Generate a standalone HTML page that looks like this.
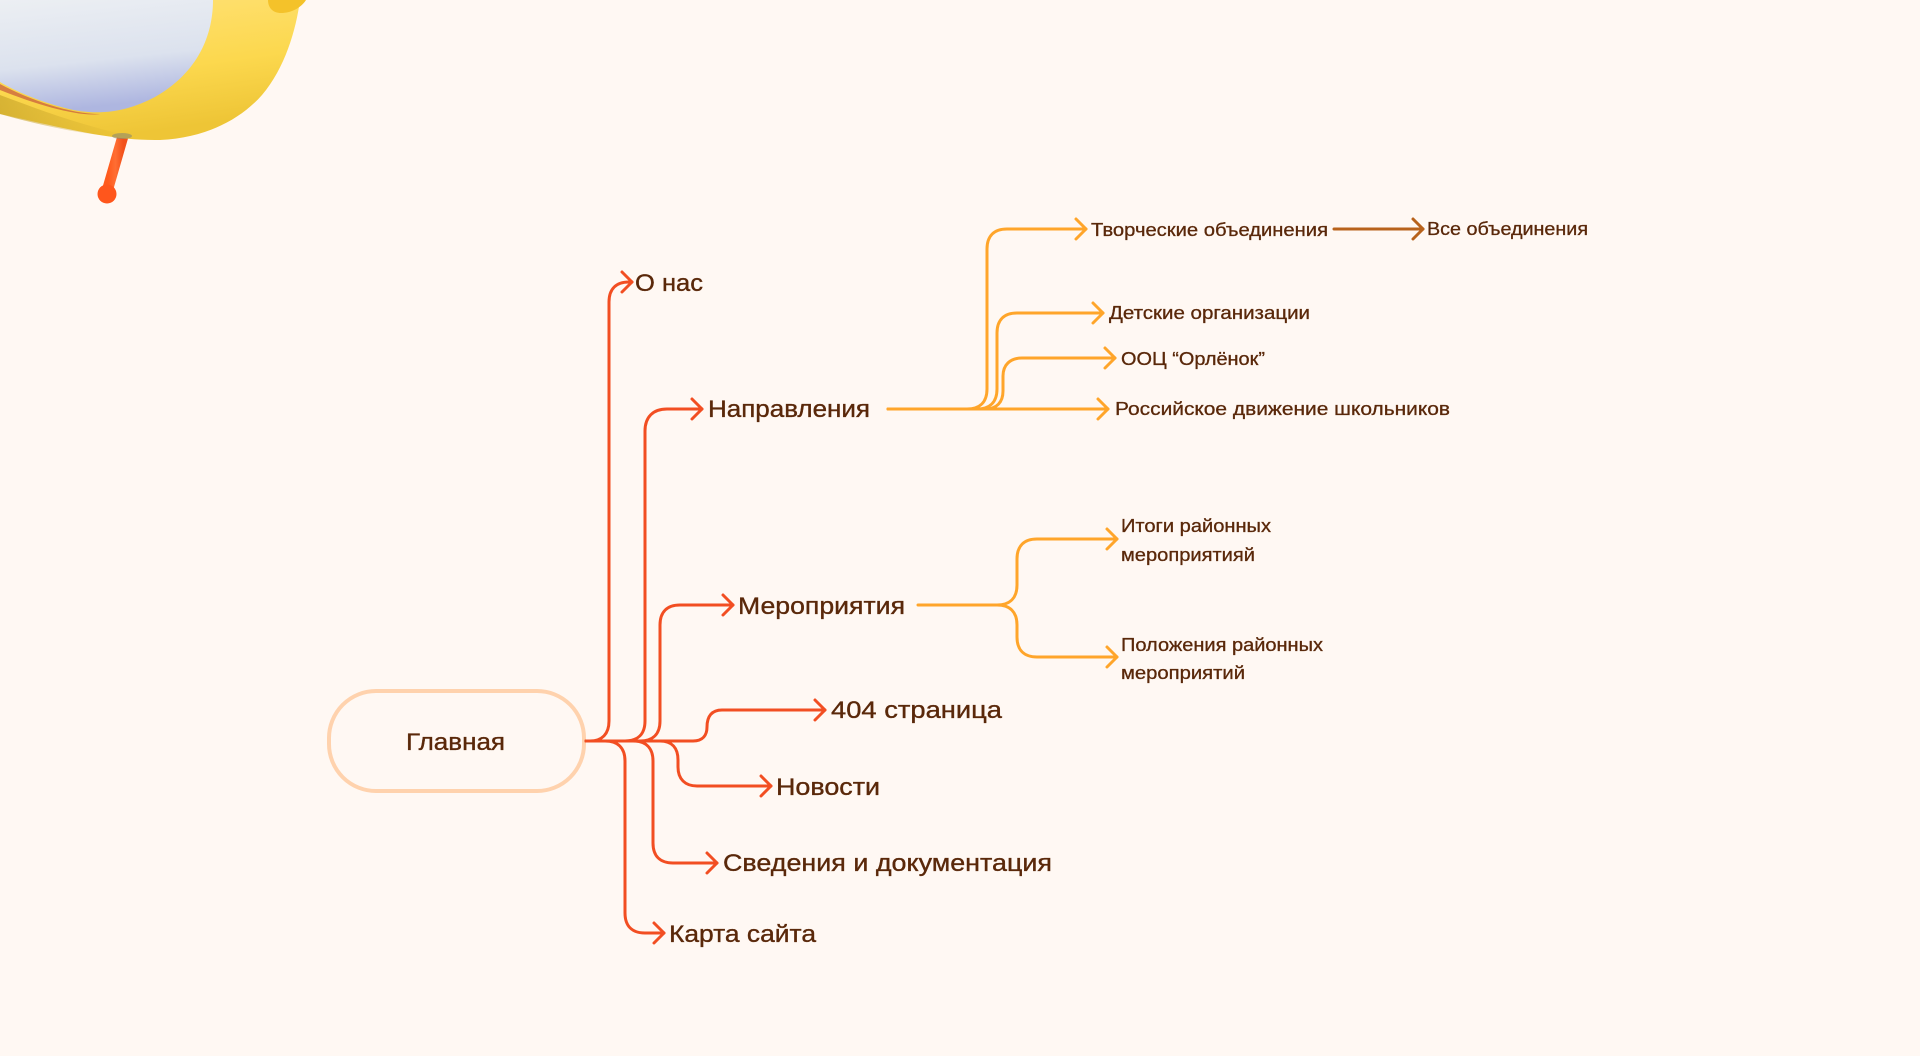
<!DOCTYPE html>
<html>
<head>
<meta charset="utf-8">
<style>
  html, body { margin:0; padding:0; background:#FFF8F3; }
  body { width:1920px; height:1056px; overflow:hidden; }
  svg { display:block; }
  .t1 { font-family:"Liberation Sans", "Noto Sans CJK SC", sans-serif; font-size:24px; fill:#5A280A; stroke:#5A280A; stroke-width:0.35px; }
  .t2 { font-family:"Liberation Sans", "Noto Sans CJK SC", sans-serif; font-size:18.5px; fill:#5A280A; stroke:#5A280A; stroke-width:0.3px; }
  .r { fill:none; stroke:#F24E22; stroke-width:3; stroke-linecap:round; stroke-linejoin:round; }
  .o { fill:none; stroke:#FFA52A; stroke-width:3; stroke-linecap:round; stroke-linejoin:round; }
  .b { fill:none; stroke:#B8621B; stroke-width:3; stroke-linecap:round; stroke-linejoin:round; }
</style>
</head>
<body>
<svg width="1920" height="1056" viewBox="0 0 1920 1056" xmlns="http://www.w3.org/2000/svg">
  <defs>
    <linearGradient id="yel" x1="0" y1="0" x2="0.3" y2="1">
      <stop offset="0" stop-color="#FFE27A"/>
      <stop offset="0.6" stop-color="#FCD84E"/>
      <stop offset="1" stop-color="#EEC536"/>
    </linearGradient>
    <linearGradient id="shade" x1="0" y1="0" x2="1" y2="0">
      <stop offset="0" stop-color="#C9A52A" stop-opacity="0.7"/>
      <stop offset="1" stop-color="#C9A52A" stop-opacity="0"/>
    </linearGradient>
    <linearGradient id="belly" x1="0" y1="0" x2="0.2" y2="1">
      <stop offset="0" stop-color="#ECEFF3"/>
      <stop offset="0.6" stop-color="#DCE2EE"/>
      <stop offset="1" stop-color="#AEB6E0"/>
    </linearGradient>
    <linearGradient id="leg" x1="0" y1="0" x2="1" y2="0">
      <stop offset="0" stop-color="#FF5A1C"/>
      <stop offset="0.5" stop-color="#FF6E33"/>
      <stop offset="1" stop-color="#F2511A"/>
    </linearGradient>
  </defs>

  <!-- Bird (top-left) -->
  <line x1="123" y1="136" x2="108" y2="188" stroke="url(#leg)" stroke-width="11" stroke-linecap="round"/>
  <circle cx="107" cy="194" r="9.5" fill="#FF561C"/>
  <path d="M0,0 H300 C296,30 285,68 262,95 C240,120 205,138 160,140 C110,141 60,127 0,114 Z" fill="url(#yel)"/>
  <path d="M0,95 C40,110 80,125 130,136 C100,138 50,128 0,114 Z" fill="url(#shade)"/>
  <ellipse cx="122" cy="136" rx="10" ry="3" fill="#8E8A70" opacity="0.6"/>
  <path d="M0,84 C30,100 70,114 100,114 C80,117 40,106 0,90 Z" fill="#C8593C" opacity="0.7"/>
  <path d="M0,0 H213 C213,40 194,75 155,97 C125,113 95,116 65,108 C38,101 15,91 0,82 Z" fill="url(#belly)"/>
  <path d="M268,0 H306 C301,8 291,13 281,13 C273,13 268,8 268,0 Z" fill="#F4C22A"/>

  <!-- Root node -->
  <rect x="329" y="691" width="255" height="100" rx="47" ry="47" fill="#FFF8F3" stroke="#FFD2AD" stroke-width="4"/>
  <text class="t1" x="406" y="750" font-size="25" textLength="99" lengthAdjust="spacingAndGlyphs">Главная</text>

  <!-- Red connectors -->
  <path class="r" d="M586,741 H590 C602,741 609,734 609,721 V302 C609,289 616,282 629,282 H632"/>
  <path class="r" d="M622,272 L632,282 L622,292"/>
  <path class="r" d="M586,741 H625 C638,741 645,734 645,721 V431 C645,417 653,409 667,409 H702"/>
  <path class="r" d="M692,399 L702,409 L692,419"/>
  <path class="r" d="M586,741 H640 C653,741 660,734 660,721 V625 C660,612 667,605 680,605 H733"/>
  <path class="r" d="M723,595 L733,605 L723,615"/>
  <path class="r" d="M586,741 H693 C703,741 707,735 707,727 C707,716 712,710 722,710 H825"/>
  <path class="r" d="M815,700 L825,710 L815,720"/>
  <path class="r" d="M586,741 H660 C672,741 678,748 678,760 V767 C678,779 685,786 697,786 H771"/>
  <path class="r" d="M761,776 L771,786 L761,796"/>
  <path class="r" d="M586,741 H633 C646,741 653,748 653,761 V843 C653,856 660,863 673,863 H717"/>
  <path class="r" d="M707,853 L717,863 L707,873"/>
  <path class="r" d="M586,741 H605 C618,741 625,748 625,761 V913 C625,926 632,933 645,933 H664"/>
  <path class="r" d="M654,923 L664,933 L654,943"/>

  <!-- Top level labels -->
  <text class="t1" x="635" y="291" textLength="68" lengthAdjust="spacingAndGlyphs">О нас</text>
  <text class="t1" x="708" y="417" textLength="162" lengthAdjust="spacingAndGlyphs">Направления</text>
  <text class="t1" x="738" y="614" textLength="167" lengthAdjust="spacingAndGlyphs">Мероприятия</text>
  <text class="t1" x="831" y="718" textLength="171" lengthAdjust="spacingAndGlyphs">404 страница</text>
  <text class="t1" x="776" y="795" textLength="104" lengthAdjust="spacingAndGlyphs">Новости</text>
  <text class="t1" x="723" y="871" textLength="329" lengthAdjust="spacingAndGlyphs">Сведения и документация</text>
  <text class="t1" x="669" y="942" textLength="147" lengthAdjust="spacingAndGlyphs">Карта сайта</text>

  <!-- Orange connectors: Направления -->
  <path class="o" d="M888,409 H1108"/>
  <path class="o" d="M1098,399 L1108,409 L1098,419"/>
  <path class="o" d="M888,409 H967 C980,409 987,402 987,389 V249 C987,236 994,229 1007,229 H1086"/>
  <path class="o" d="M1076,219 L1086,229 L1076,239"/>
  <path class="o" d="M888,409 H977 C990,409 997,402 997,389 V333 C997,320 1004,313 1017,313 H1103"/>
  <path class="o" d="M1093,303 L1103,313 L1093,323"/>
  <path class="o" d="M888,409 H985 C997,409 1003,402 1003,391 V376 C1003,365 1010,358 1022,358 H1115"/>
  <path class="o" d="M1105,348 L1115,358 L1105,368"/>

  <!-- Brown arrow -->
  <path class="b" d="M1334,229 H1423"/>
  <path class="b" d="M1413,219 L1423,229 L1413,239"/>

  <!-- Orange connectors: Мероприятия -->
  <path class="o" d="M918,605 H997 C1010,605 1017,598 1017,585 V559 C1017,546 1024,539 1037,539 H1117"/>
  <path class="o" d="M1107,529 L1117,539 L1107,549"/>
  <path class="o" d="M997,605 C1010,605 1017,612 1017,625 V637 C1017,650 1024,657 1037,657 H1117"/>
  <path class="o" d="M1107,647 L1117,657 L1107,667"/>

  <!-- Second level labels -->
  <text class="t2" x="1091" y="236" textLength="237" lengthAdjust="spacingAndGlyphs">Творческие объединения</text>
  <text class="t2" x="1427" y="235" textLength="161" lengthAdjust="spacingAndGlyphs">Все объединения</text>
  <text class="t2" x="1109" y="319" textLength="201" lengthAdjust="spacingAndGlyphs">Детские организации</text>
  <text class="t2" x="1121" y="365" textLength="144" lengthAdjust="spacingAndGlyphs">ООЦ “Орлёнок”</text>
  <text class="t2" x="1115" y="415" textLength="335" lengthAdjust="spacingAndGlyphs">Российское движение школьников</text>
  <text class="t2" x="1121" y="532" textLength="150" lengthAdjust="spacingAndGlyphs">Итоги районных</text>
  <text class="t2" x="1121" y="561" textLength="134" lengthAdjust="spacingAndGlyphs">мероприятияй</text>
  <text class="t2" x="1121" y="651" textLength="202" lengthAdjust="spacingAndGlyphs">Положения районных</text>
  <text class="t2" x="1121" y="679" textLength="124" lengthAdjust="spacingAndGlyphs">мероприятий</text>
</svg>
</body>
</html>
